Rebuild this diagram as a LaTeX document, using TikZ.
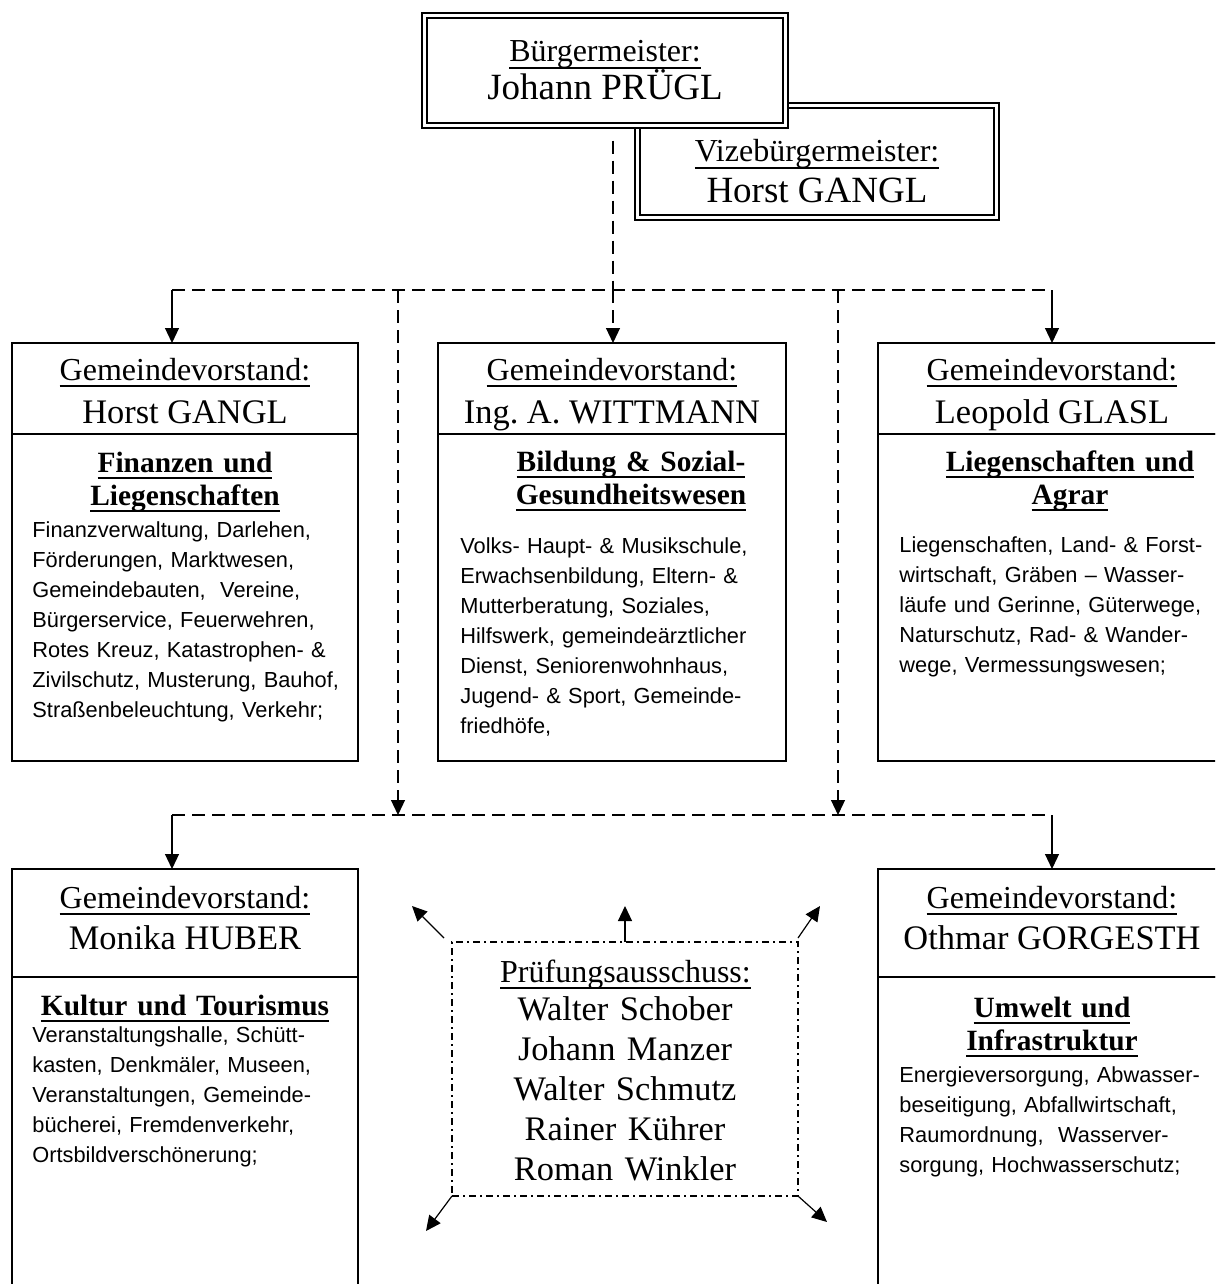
\documentclass[tikz,border=0pt]{standalone}
\usepackage{fontspec}
\setmainfont{Liberation Serif}
\newfontfamily\arialfont{Liberation Sans}
\usetikzlibrary{positioning,arrows.meta}
\frenchspacing

\newsavebox\ulbox
\newcommand\ulab[1]{\leavevmode\sbox\ulbox{#1}\rlap{\rule[-3.3pt]{\wd\ulbox}{0.65pt}}\usebox\ulbox}
\newcommand\uhead[1]{\leavevmode\sbox\ulbox{#1}\rlap{\rule[-3.6pt]{\wd\ulbox}{1.1pt}}\usebox\ulbox}

\begin{document}
\begin{tikzpicture}[
  x=0.5pt, y=-0.5pt,
  frame/.style={draw, rectangle, line width=0.6pt, inner sep=0pt, outer sep=0pt},
  boss/.style={frame, double, double distance=1.9pt, fill=white},
  lbl/.style={anchor=base, inner sep=0pt, font=\fontsize{16}{19}\selectfont},
  pname/.style={anchor=base, inner sep=0pt, font=\fontsize{17.2}{20}\selectfont},
  head/.style={anchor=base, inner sep=0pt, text width=170pt, align=center, font=\bfseries\fontsize{14.7}{16.5}\selectfont},
  txt/.style={anchor=base west, inner sep=0pt, text width=175pt, align=left, font=\arialfont\fontsize{10.9}{15}\selectfont},
  dashline/.style={line width=0.6pt, dash pattern=on 6.5pt off 3.5pt},
  arr/.style={-{Triangle[length=7.5pt,width=7pt]}, line width=0.6pt},
  pruef/.style={frame, dash pattern=on 3.5pt off 2pt on 1pt off 2pt}
]
\useasboundingbox (0,0) rectangle (1215,1284);
\clip (0,0) rectangle (1215,1284);

% Buergermeister and Vize
\node[boss, minimum width=179.5pt, minimum height=56pt] (vize) at (817,161.5) {};
\node[boss, minimum width=180.5pt, minimum height=55pt] (bgm) at (605,70.5) {};
\node[lbl] (bgml) at (605,62) {\ulab{Bürgermeister:}};
\node[pname, font=\fontsize{18.5}{22}\selectfont] (bgmn) at (605,100) {Johann PRÜGL};
\node[lbl] (vizel) at (817,162) {\ulab{Vizebürgermeister:}};
\node[pname, font=\fontsize{18.5}{22}\selectfont] (vizen) at (817,202) {Horst GANGL};

% Gemeindevorstand, top row
\node[frame, minimum width=173pt, minimum height=45.5pt] (gv1) at (185,388.5) {};
\node[frame, minimum width=173pt, minimum height=163.5pt, below=0pt of gv1] (gv1b) {};
\node[lbl] (gv1l) at (185,380) {\ulab{Gemeindevorstand:}};
\node[pname] (gv1n) at (185,423) {Horst GANGL};
\node[head] (gv1h) at (185,472) {\uhead{Finanzen und}\\\uhead{Liegenschaften}};
\node[txt] (gv1t) at (32,537) {Finanzverwaltung, Darlehen,\\Förderungen, Marktwesen,\\Gemeindebauten,\ \ Vereine,\\Bürgerservice, Feuerwehren,\\Rotes Kreuz, Katastrophen- \&\\Zivilschutz, Musterung, Bauhof,\\Straßenbeleuchtung, Verkehr;};

\node[frame, minimum width=174pt, minimum height=45.5pt] (gv2) at (612,388.5) {};
\node[frame, minimum width=174pt, minimum height=163.5pt, below=0pt of gv2] (gv2b) {};
\node[lbl] (gv2l) at (612,380) {\ulab{Gemeindevorstand:}};
\node[pname] (gv2n) at (612,423) {Ing. A. WITTMANN};
\node[head] (gv2h) at (631,471) {\uhead{Bildung \& Sozial-}\\\uhead{Gesundheitswesen}};
\node[txt] (gv2t) at (460,553) {Volks- Haupt- \& Musikschule,\\Erwachsenbildung, Eltern- \&\\Mutterberatung, Soziales,\\Hilfswerk, gemeindeärztlicher\\Dienst, Seniorenwohnhaus,\\Jugend- \& Sport, Gemeinde-\\friedhöfe,};

\node[frame, minimum width=173pt, minimum height=45.5pt] (gv3) at (1051,388.5) {};
\node[frame, minimum width=173pt, minimum height=163.5pt, below=0pt of gv3] (gv3b) {};
\node[lbl] (gv3l) at (1052,380) {\ulab{Gemeindevorstand:}};
\node[pname] (gv3n) at (1052,423) {Leopold GLASL};
\node[head] (gv3h) at (1070,471) {\uhead{Liegenschaften und}\\\uhead{Agrar}};
\node[txt] (gv3t) at (899,552) {Liegenschaften, Land- \& Forst-\\wirtschaft, Gräben – Wasser-\\läufe und Gerinne, Güterwege,\\Naturschutz, Rad- \& Wander-\\wege, Vermessungswesen;};

% Gemeindevorstand, bottom row
\node[frame, minimum width=173pt, minimum height=54pt] (gv4) at (185,923) {};
\node[frame, minimum width=173pt, minimum height=165pt, below=0pt of gv4] (gv4b) {};
\node[lbl] (gv4l) at (185,908) {\ulab{Gemeindevorstand:}};
\node[pname] (gv4n) at (185,949) {Monika HUBER};
\node[head] (gv4h) at (185,1015) {\uhead{Kultur und Tourismus}};
\node[txt] (gv4t) at (32,1042) {Veranstaltungshalle, Schütt-\\kasten, Denkmäler, Museen,\\Veranstaltungen, Gemeinde-\\bücherei, Fremdenverkehr,\\Ortsbildverschönerung;};

\node[frame, minimum width=173pt, minimum height=54pt] (gv5) at (1051,923) {};
\node[frame, minimum width=173pt, minimum height=165pt, below=0pt of gv5] (gv5b) {};
\node[lbl] (gv5l) at (1052,908) {\ulab{Gemeindevorstand:}};
\node[pname] (gv5n) at (1052,949) {Othmar GORGESTH};
\node[head] (gv5h) at (1052,1017) {\uhead{Umwelt und}\\\uhead{Infrastruktur}};
\node[txt] (gv5t) at (899,1082) {Energieversorgung, Abwasser-\\beseitigung, Abfallwirtschaft,\\Raumordnung,\ \ Wasserver-\\sorgung, Hochwasserschutz;};

% Pruefungsausschuss
\node[pruef, minimum width=173pt, minimum height=127pt] (pa) at (625,1069) {};
\node[lbl] (pal) at (625.5,982) {\ulab{Prüfungsausschuss:}};
\node[pname, text width=170pt, align=center] (pan) at (625,1020) {Walter Schober\\Johann Manzer\\Walter Schmutz\\Rainer Kührer\\Roman Winkler};

% connector points
\coordinate (hub) at (613,290);
\coordinate (lft) at (172,290);
\coordinate (rgt) at (1052,290);
\coordinate (mid1) at (398,290);
\coordinate (mid2) at (838,290);
\coordinate (lft2) at (172,815);
\coordinate (rgt2) at (1052,815);
\coordinate (low1) at (398,815);
\coordinate (low2) at (838,815);

% upper dashed tree
\draw[dashline] (bgm.south -| hub) ++(0,15) -- (hub);
\draw[dashline] (lft) -- (rgt);
\draw[arr] (lft) -- (lft |- gv1.north);
\draw[dashline, arr] (hub) -- (hub |- gv2.north);
\draw[arr] (rgt) -- (rgt |- gv3.north);
\draw[dashline, arr] (mid1) -- (low1);
\draw[dashline, arr] (mid2) -- (low2);

% lower dashed line
\draw[dashline] (lft2) -- (rgt2);
\draw[arr] (lft2) -- (lft2 |- gv4.north);
\draw[arr] (rgt2) -- (rgt2 |- gv5.north);

% arrows out of the Pruefungsausschuss
\coordinate (pa1) at (412,906);
\coordinate (pa2) at (625,906);
\coordinate (pa3) at (820,906);
\coordinate (pa4) at (426,1231);
\coordinate (pa5) at (827,1222);
\draw[arr] ([shift={(-8,-4)}]pa.north west) -- (pa1);
\draw[arr] (pa.north) -- (pa2);
\draw[arr] ([shift={(0,-4)}]pa.north east) -- (pa3);
\draw[arr] (pa.south west) -- (pa4);
\draw[arr] (pa.south east) -- (pa5);

\end{tikzpicture}
\end{document}
